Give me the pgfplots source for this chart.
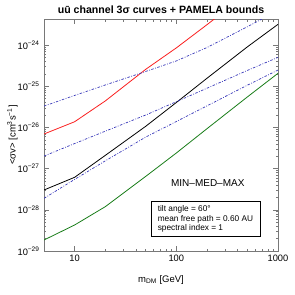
\documentclass[border=0pt]{standalone}
\usepackage{fontspec}
\setmainfont{Liberation Sans}
\usepackage{pgfplots}
\pgfplotsset{compat=1.18}
\definecolor{myred}{RGB}{250,30,30}
\definecolor{mygreen}{RGB}{25,125,25}
\definecolor{myblue}{RGB}{55,55,185}
\definecolor{frame}{RGB}{120,120,120}
\begin{document}
\begin{tikzpicture}
\useasboundingbox (-44pt,-44pt) rectangle (251pt,251pt);
\begin{axis}[
  at={(0pt,0pt)}, anchor=south west,
  scale only axis, width=234pt, height=232pt,
  xmode=log, ymode=log,
  xmin=5, xmax=1000, ymin=1e-29, ymax=4.28e-24,
  xtick={10,100,1000}, xticklabels={10,100,1000},
  ytick={1e-29,1e-28,1e-27,1e-26,1e-25,1e-24},
  yticklabels={10\textsuperscript{−29},10\textsuperscript{−28},10\textsuperscript{−27},10\textsuperscript{−26},10\textsuperscript{−25},10\textsuperscript{−24}},
  tick align=inside,
  major tick length=5pt, minor tick length=2.5pt,
  axis line style={frame, line width=0.9pt},
  every tick/.style={frame, line width=0.5pt},
  tick label style={font=\fontsize{9.3}{10}\selectfont},
  yticklabel style={xshift=-1pt},
  xlabel={m\textsubscript{DM} [GeV]},
  ylabel={<σv> [cm\textsuperscript{3}s\textsuperscript{−1}]},
  xlabel style={at={(axis description cs:0.5,-0.125)}, anchor=center, font=\fontsize{9.5}{10}\selectfont},
  ylabel style={at={(axis description cs:-0.135,0.5)}, anchor=center, font=\fontsize{9.5}{10}\selectfont},
  title={uū channel 3σ curves + PAMELA bounds},
  every axis title shift=0pt,
  title style={at={(axis description cs:0.5,1)}, anchor=base, yshift=6pt, font=\bfseries\fontsize{10.6}{11}\selectfont},
  clip=true,
]
\addplot[myred, line width=0.8pt] coordinates {(5,6.92e-27) (10,1.374e-26) (20,4.38e-26) (50,2.57e-25) (100,8.51e-25) (200,3.11e-24) (500,1.78e-23) (1000,6.65e-23)};
\addplot[black, line width=0.8pt] coordinates {(5,3.03e-28) (10,6.15e-28) (20,2.09e-27) (50,1.064e-26) (100,4.02e-26) (200,1.556e-25) (500,9.04e-25) (1000,3.18e-24)};
\addplot[mygreen, line width=0.8pt] coordinates {(5,1.85e-29) (10,4.28e-29) (20,1.19e-28) (50,6.47e-28) (100,2.39e-27) (200,9.29e-27) (500,5.50e-26) (1000,2.06e-25)};
\addplot[myblue, line width=0.7pt, dash pattern=on 2.5pt off 1.5pt on 0.8pt off 1.5pt] coordinates {(5,3.30e-26) (10,5.98e-26) (20,1.07e-25) (50,2.28e-25) (100,4.11e-25) (200,8.69e-25) (500,2.78e-24) (1000,6.92e-24)};
\addplot[myblue, line width=0.7pt, dash pattern=on 2.5pt off 1.5pt on 0.8pt off 1.5pt] coordinates {(5,2.02e-27) (10,4.06e-27) (20,8.09e-27) (50,2.00e-26) (100,4.21e-26) (200,8.93e-26) (500,2.42e-25) (1000,5.02e-25)};
\addplot[myblue, line width=0.7pt, dash pattern=on 2.5pt off 1.5pt on 0.8pt off 1.5pt] coordinates {(5,1.90e-28) (10,5.47e-28) (20,1.54e-27) (50,5.82e-27) (100,1.39e-26) (200,3.33e-26) (500,1.06e-25) (1000,2.47e-25)};
\node[font=\fontsize{10}{12}\selectfont] at (rel axis cs:0.70,0.293) {MIN–MED–MAX};
\node[draw=black, line width=0.5pt, align=left, font=\fontsize{8.3}{9.5}\selectfont, inner xsep=7pt, inner ysep=4pt, fill=white] at (rel axis cs:0.69,0.138) {tilt angle = 60°\\mean free path = 0.60 AU\\spectral index = 1};
\end{axis}
\end{tikzpicture}
\end{document}
